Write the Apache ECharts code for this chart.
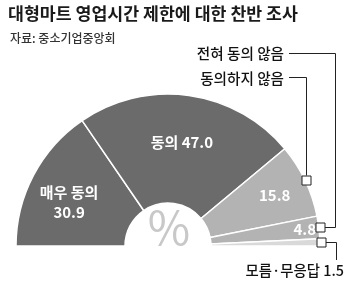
<!DOCTYPE html>
<html><head><meta charset="utf-8">
<script src="https://cdn.jsdelivr.net/npm/echarts@6/dist/echarts.min.js"></script>
<style>html,body{margin:0;padding:0;background:#fff}#c{width:350px;height:285px}</style>
</head><body><div id="c"></div>
<script>
const categories = ['매우 동의', '동의', '동의하지 않음', '전혀 동의 않음', '모름·무응답'];
const values = [30.9, 47.0, 15.8, 4.8, 1.5];
const titleText = '대형마트 영업시간 제한에 대한 찬반 조사';
const sourceText = '자료: 중소기업중앙회';

// styling
const colors = ['#6b6b6b', '#6b6b6b', '#b3b3b3', '#b3b3b3', '#d9d9d9'];
const labelShift = [[-10, 3], [0, -4], [16, -7], [37, -4], [0, 0]];
const CX = 168, CY = 246, R0 = 43, R1 = 152;
const FONT = 'Noto Sans CJK KR';

const total = values.reduce((a, b) => a + b, 0);
function midAngle(i) {
  let cum = 0;
  for (let k = 0; k < i; k++) cum += values[k];
  const mid = cum + values[i] / 2;
  return (180 - mid / total * 180) * Math.PI / 180;
}
function squarePos(i) {
  const a = midAngle(i), r = R1 + 1;
  return [Math.round(CX + r * Math.cos(a)), Math.round(CY - r * Math.sin(a))];
}
function txt(s, size, weight, color, extra) {
  return Object.assign({text: s, fontFamily: FONT, fontSize: size, fontWeight: weight, fill: color}, extra || {});
}

const chart = echarts.init(document.getElementById('c'), null, {renderer: 'canvas'});

const sq2 = squarePos(2), sq3 = squarePos(3), sq4 = squarePos(4);
const H = 4.5;
const lineStyle = {stroke: '#222', lineWidth: 1, fill: null};
const graphics = [
  {type: 'text', left: 8, top: 5, style: txt(titleText, 17.3, 'bold', '#1a1a1a')},
  {type: 'text', left: 10, top: 32, style: txt(sourceText, 12, 500, '#333')},
  {type: 'text', x: CX + 1, y: CY - 18, style: txt('%', 46, 'normal', '#c8c8c8', {align: 'center', verticalAlign: 'middle'})},
  // outside labels
  {type: 'text', x: 284, y: 53, style: txt(categories[3], 14.6, 500, '#111', {align: 'right', verticalAlign: 'middle'})},
  {type: 'text', x: 284, y: 78, style: txt(categories[2], 14.6, 500, '#111', {align: 'right', verticalAlign: 'middle'})},
  {type: 'text', x: 344, y: 271, style: txt(categories[4] + ' ' + values[4].toFixed(1), 14.4, 500, '#111', {align: 'right', verticalAlign: 'middle'})},
  // leader lines
  {type: 'polyline', z: 10, shape: {points: [[289, 77.5], [sq2[0] + 0.5, 77.5], [sq2[0] + 0.5, sq2[1] - H]]}, style: lineStyle},
  {type: 'polyline', z: 10, shape: {points: [[289, 53.5], [335.5, 53.5], [335.5, sq3[1] + 0.5], [sq3[0] + H, sq3[1] + 0.5]]}, style: lineStyle},
  {type: 'polyline', z: 10, shape: {points: [[sq4[0] + H, sq4[1] + 0.5], [336.5, sq4[1] + 0.5], [336.5, 260]]}, style: lineStyle},
];
[sq2, sq3, sq4].forEach(p => {
  graphics.push({type: 'rect', z: 11, shape: {x: p[0] - H + 0.5, y: p[1] - H + 0.5, width: 9, height: 9}, style: {fill: '#fff', stroke: '#222', lineWidth: 1}});
});

chart.setOption({
  animation: false,
  backgroundColor: '#fff',
  graphic: graphics,
  series: [{
    type: 'pie',
    center: [CX, CY],
    radius: [R0, R1],
    startAngle: 180,
    endAngle: 0,
    clockwise: true,
    avoidLabelOverlap: false,
    silent: true,
    itemStyle: {borderColor: '#fff', borderWidth: 1.5},
    label: {
      show: true,
      position: 'inside',
      color: '#fff',
      fontFamily: FONT,
      fontSize: 15,
      fontWeight: 'bold',
      lineHeight: 20,
      formatter: p => {
        if (p.dataIndex === 0) return p.name + '\n' + p.value.toFixed(1);
        if (p.dataIndex === 1) return p.name + ' ' + p.value.toFixed(1);
        return p.value.toFixed(1);
      }
    },
    labelLine: {show: false},
    labelLayout: p => ({dx: labelShift[p.dataIndex][0], dy: labelShift[p.dataIndex][1]}),
    data: categories.map((c, i) => ({
      name: c, value: values[i],
      itemStyle: {color: colors[i]},
      label: {show: i < 4}
    }))
  }]
});
</script></body></html>
